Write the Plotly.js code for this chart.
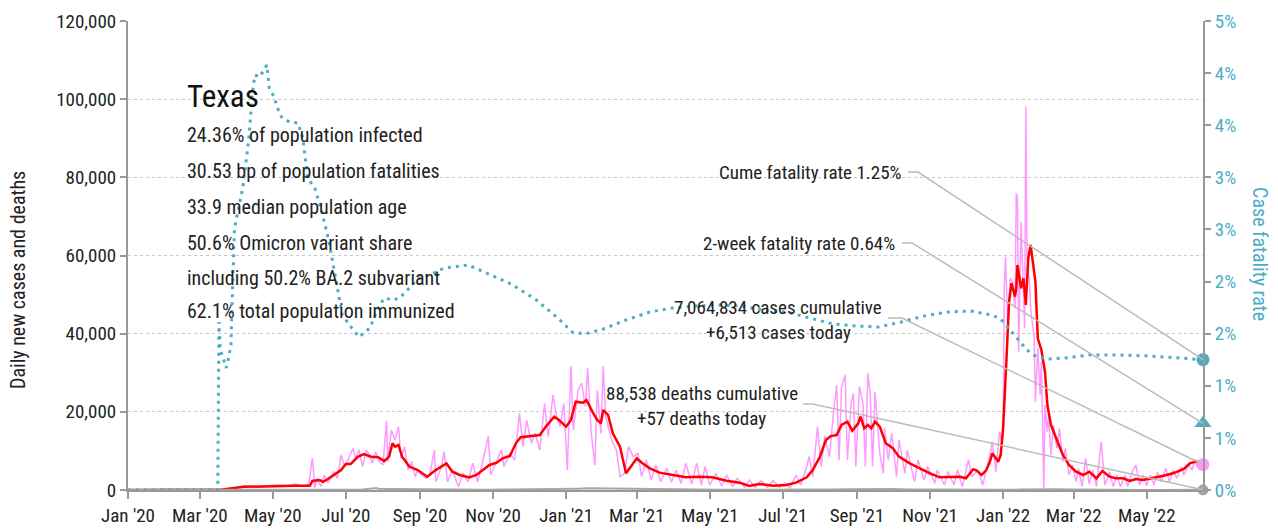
<!DOCTYPE html>
<html>
<head>
<meta charset="utf-8">
<script src="https://cdn.plot.ly/plotly-3.0.1.min.js"></script>
<style>html,body{margin:0;padding:0;background:#fff;}#chart{width:1278px;height:529px;}</style>
</head>
<body>
<div id="chart"></div>
<script>
// ---------- DATA ----------
const stateName = 'Texas';
const statLines = [
  '24.36% of population infected',
  '30.53 bp of population fatalities',
  '33.9 median population age',
  '50.6% Omicron variant share',
  'including 50.2% BA.2 subvariant',
  '62.1% total population immunized'
];
const cumCases = 7064834, casesToday = 6513;
const cumDeaths = 88538, deathsToday = 57;
const cumeRate = 0.0125, twoWeekRate = 0.0064;

// daily new cases (pink)
const caseDates = ['2020-01-01','2020-03-10','2020-03-16','2020-03-24','2020-04-01','2020-04-08','2020-04-15','2020-04-22','2020-04-29','2020-05-06','2020-05-13','2020-05-20','2020-05-27','2020-05-31',
'2020-06-03','2020-06-05','2020-06-07','2020-06-10','2020-06-13','2020-06-16','2020-06-21','2020-06-24','2020-06-27','2020-06-30','2020-07-02','2020-07-07','2020-07-09','2020-07-12','2020-07-15','2020-07-18','2020-07-21','2020-07-23','2020-07-26','2020-07-29',
'2020-08-01','2020-08-04','2020-08-05','2020-08-08','2020-08-11','2020-08-14','2020-08-16','2020-08-19','2020-08-22','2020-08-25','2020-08-28','2020-08-30','2020-09-02','2020-09-06','2020-09-09','2020-09-13','2020-09-14','2020-09-19','2020-09-21','2020-09-24','2020-09-28',
'2020-10-03','2020-10-07','2020-10-11','2020-10-15','2020-10-19','2020-10-23','2020-10-28','2020-10-30','2020-11-04','2020-11-08','2020-11-10','2020-11-15','2020-11-19','2020-11-23','2020-11-26','2020-11-29',
'2020-12-03','2020-12-06','2020-12-10','2020-12-14','2020-12-17','2020-12-21','2020-12-24','2020-12-27','2020-12-30','2021-01-02','2021-01-05','2021-01-07','2021-01-11','2021-01-14','2021-01-17','2021-01-19','2021-01-22','2021-01-25','2021-01-27','2021-01-30',
'2021-02-01','2021-02-03','2021-02-08','2021-02-12','2021-02-15','2021-02-19','2021-02-22','2021-02-26','2021-03-02','2021-03-05','2021-03-09','2021-03-13','2021-03-17','2021-03-21','2021-03-26','2021-03-30',
'2021-04-03','2021-04-07','2021-04-11','2021-04-16','2021-04-20','2021-04-24','2021-04-27','2021-05-01','2021-05-06','2021-05-11','2021-05-15','2021-05-20','2021-05-24','2021-05-30',
'2021-06-03','2021-06-08','2021-06-13','2021-06-18','2021-06-23','2021-06-28','2021-07-03','2021-07-07','2021-07-12','2021-07-16','2021-07-21','2021-07-23','2021-07-26','2021-07-30',
'2021-08-02','2021-08-05','2021-08-09','2021-08-12','2021-08-15','2021-08-17','2021-08-19','2021-08-22','2021-08-24','2021-08-27','2021-08-29','2021-08-31',
'2021-09-03','2021-09-06','2021-09-08','2021-09-10','2021-09-12','2021-09-14','2021-09-16','2021-09-20','2021-09-23','2021-09-24','2021-09-27','2021-09-30',
'2021-10-04','2021-10-06','2021-10-11','2021-10-13','2021-10-19','2021-10-22','2021-10-27','2021-10-30','2021-11-05','2021-11-07','2021-11-13','2021-11-16','2021-11-21','2021-11-24','2021-11-28',
'2021-12-03','2021-12-06','2021-12-11','2021-12-15','2021-12-19','2021-12-21','2021-12-23','2021-12-26','2021-12-29','2021-12-31',
'2022-01-01','2022-01-02','2022-01-03','2022-01-04','2022-01-05','2022-01-07','2022-01-09','2022-01-11','2022-01-12','2022-01-13','2022-01-14','2022-01-16','2022-01-18','2022-01-19','2022-01-20','2022-01-21','2022-01-23','2022-01-24','2022-01-26','2022-01-27','2022-01-28','2022-01-30',
'2022-02-01','2022-02-02','2022-02-04','2022-02-05','2022-02-07','2022-02-08','2022-02-10','2022-02-12','2022-02-15','2022-02-17','2022-02-20','2022-02-22','2022-02-25','2022-02-28',
'2022-03-03','2022-03-05','2022-03-08','2022-03-11','2022-03-14','2022-03-17','2022-03-20','2022-03-24','2022-03-27','2022-03-31',
'2022-04-03','2022-04-06','2022-04-09','2022-04-13','2022-04-15','2022-04-19','2022-04-22','2022-04-25','2022-04-28',
'2022-05-01','2022-05-04','2022-05-07','2022-05-10','2022-05-13','2022-05-17','2022-05-20','2022-05-23','2022-05-26','2022-05-30',
'2022-06-01','2022-06-05','2022-06-08','2022-06-10','2022-06-12','2022-06-14','2022-06-16','2022-06-17'];
const caseValues = [0,0,50,300,700,1100,900,1000,1200,1300,1100,1600,900,1500,
8200,500,3000,900,3800,1800,4700,3000,8960,6000,7250,10670,8100,10240,6000,10240,8960,6830,9800,7250,
6400,17740,7250,15350,12800,16200,8100,11100,5100,7250,3400,5100,3840,3000,3800,10240,2100,6000,9800,2100,5100,
850,4270,2100,6830,2100,6830,13800,3840,7680,10240,6000,9380,7680,19630,11100,17900,
11950,14500,10240,22200,13650,24300,18760,16200,22200,5100,31730,15350,25600,27300,21300,31140,14500,6400,25600,14500,
31730,18760,12800,10240,3400,4270,11100,8530,9380,3400,7680,2560,6400,2120,5550,2000,
5100,1710,6830,1500,6830,1280,6000,1280,4270,1020,3840,850,2990,680,
2560,700,2390,700,2390,700,1880,510,3840,1280,6000,8530,3400,16200,
6000,13650,8530,18760,26870,7680,26020,29430,7680,22180,24740,6000,
26440,22180,6000,29860,24740,6000,25160,9380,4270,15780,7680,14500,
3400,12800,4270,10240,2130,7680,2560,6000,1710,5120,1280,4690,1280,5120,850,
7680,3400,5100,1280,6000,8960,12360,4690,14930,12500,
14000,52460,59700,52000,41380,54180,53300,46490,75920,74640,35390,68660,46000,41380,98090,60140,53300,46490,41380,39000,22600,36250,
24310,32830,430,21750,14930,19190,8960,16630,10670,15780,7250,10670,3840,6400,
2130,5500,850,8100,1500,5120,850,12360,1280,4690,
850,3840,850,3840,850,4690,6400,1280,3840,
1100,3840,1280,4690,2130,5550,2130,5120,2990,5970,
3840,6400,5120,7930,5970,7680,6830,6513];

// 7-day average of new cases (red)
const avgDates = ['2020-01-01','2020-03-10','2020-03-20','2020-04-07','2020-04-29','2020-05-19','2020-06-01','2020-06-03','2020-06-09','2020-06-12','2020-06-16','2020-06-21','2020-06-27',
'2020-07-01','2020-07-05','2020-07-11','2020-07-16','2020-07-22','2020-07-28','2020-08-02','2020-08-06','2020-08-09','2020-08-11','2020-08-14','2020-08-17','2020-08-23','2020-08-30',
'2020-09-07','2020-09-14','2020-09-23','2020-09-28','2020-10-04','2020-10-12','2020-10-18','2020-10-23','2020-10-29','2020-11-04','2020-11-09','2020-11-15','2020-11-20','2020-11-24',
'2020-12-01','2020-12-10','2020-12-15','2020-12-22','2020-12-26','2021-01-01','2021-01-05','2021-01-09','2021-01-15','2021-01-18','2021-01-23','2021-01-27','2021-01-30',
'2021-02-01','2021-02-05','2021-02-09','2021-02-15','2021-02-20','2021-02-24','2021-03-01','2021-03-06','2021-03-12','2021-03-20','2021-03-31','2021-04-11','2021-04-22',
'2021-05-03','2021-05-15','2021-05-26','2021-06-03','2021-06-11','2021-06-23','2021-07-04','2021-07-12','2021-07-21','2021-07-26',
'2021-08-01','2021-08-06','2021-08-10','2021-08-15','2021-08-19','2021-08-24','2021-08-28','2021-09-02','2021-09-04','2021-09-07','2021-09-10','2021-09-13','2021-09-16','2021-09-20','2021-09-25',
'2021-10-01','2021-10-06','2021-10-15','2021-10-23','2021-11-01','2021-11-09','2021-11-20','2021-11-26','2021-12-01','2021-12-07','2021-12-10','2021-12-14','2021-12-18','2021-12-21','2021-12-23','2021-12-28','2021-12-30',
'2022-01-01','2022-01-04','2022-01-06','2022-01-08','2022-01-11','2022-01-12','2022-01-13','2022-01-16','2022-01-18','2022-01-20','2022-01-22','2022-01-24','2022-01-26','2022-01-28','2022-01-30',
'2022-02-02','2022-02-05','2022-02-07','2022-02-10','2022-02-13','2022-02-16','2022-02-20','2022-02-25','2022-03-03','2022-03-09','2022-03-14','2022-03-20','2022-03-25','2022-03-31',
'2022-04-05','2022-04-11','2022-04-17','2022-04-22','2022-04-28','2022-05-06','2022-05-15','2022-05-23','2022-06-01','2022-06-06','2022-06-11','2022-06-17'];
const avgValues = [0,0,150,800,1000,1100,1100,2300,2560,2100,2800,3840,5100,
6650,6650,8500,9200,8500,8400,7400,8500,11950,11100,11500,8500,6000,5100,
3400,5100,6800,4700,3840,3240,3840,4950,6400,7000,8100,8700,11950,13500,
13800,14070,16200,18760,17900,16200,17900,22600,22340,23000,20000,17900,17060,
20470,19200,14500,11100,4270,5970,8100,6800,5550,4440,3840,3240,3400,
3240,2390,1880,1020,1540,1100,1280,1880,3240,5100,
8500,12800,13800,14070,16630,17480,15170,17060,18760,15780,16630,15780,17480,16200,11950,
10670,8530,6830,5550,4270,3240,3240,3400,2990,5290,4950,3840,5120,7250,9380,7250,8960,
15780,34550,48190,52900,49470,51620,57580,51620,54180,47340,59300,62700,58420,53300,38820,
35830,30270,21750,16630,14070,11950,8960,6400,4690,3840,4690,2990,4860,3400,
2990,2990,2300,2820,2560,2990,3670,4270,5370,6830,7250,6830];

// daily new deaths (grey)
const deathDates = ['2020-01-01','2020-03-15','2020-04-01','2020-04-15','2020-05-01','2020-05-15','2020-06-01','2020-06-15','2020-07-01','2020-07-15','2020-07-27','2020-07-28','2020-08-10','2020-08-25',
'2020-09-10','2020-09-25','2020-10-10','2020-10-25','2020-11-10','2020-11-25','2020-12-10','2020-12-25','2021-01-10','2021-01-20','2021-01-30','2021-02-10','2021-02-25',
'2021-03-10','2021-03-25','2021-04-10','2021-04-25','2021-05-10','2021-05-25','2021-06-10','2021-06-25','2021-07-10','2021-07-25','2021-08-10','2021-08-25','2021-09-10','2021-09-20',
'2021-10-01','2021-10-15','2021-11-01','2021-11-15','2021-12-01','2021-12-15','2022-01-01','2022-01-15','2022-02-01','2022-02-15','2022-03-01','2022-03-15',
'2022-04-01','2022-04-15','2022-05-01','2022-05-15','2022-06-01','2022-06-17'];
const deathValues = [0,2,15,40,35,40,30,30,50,150,500,300,250,200,
100,120,80,90,130,150,230,250,350,450,400,350,250,
200,120,80,60,50,40,30,25,20,40,120,220,300,350,
250,150,100,60,60,50,40,100,200,180,120,60,
40,20,15,15,20,57];

// case fatality rate (teal, fraction)
const cfrDates = ['2020-01-01','2020-03-16','2020-03-17','2020-03-18','2020-03-21','2020-03-23','2020-03-25','2020-03-27','2020-03-28','2020-03-30',
'2020-04-06','2020-04-11','2020-04-14','2020-04-16','2020-04-20','2020-04-24','2020-04-26','2020-04-28','2020-05-02','2020-05-07','2020-05-09','2020-05-15','2020-05-22','2020-05-26','2020-05-30',
'2020-06-05','2020-06-11','2020-06-17','2020-06-23','2020-06-28','2020-07-06','2020-07-12','2020-07-21','2020-07-28','2020-08-02','2020-08-09','2020-08-15','2020-08-23','2020-08-31',
'2020-09-09','2020-09-21','2020-10-11','2020-10-28','2020-11-16','2020-12-06','2020-12-25','2021-01-06','2021-01-17','2021-02-01','2021-02-20','2021-03-12','2021-03-31',
'2021-04-19','2021-05-08','2021-05-27','2021-06-15','2021-07-04','2021-07-23','2021-08-12','2021-08-31','2021-09-19','2021-10-08','2021-10-27','2021-11-16','2021-12-05','2021-12-22','2021-12-29',
'2022-01-02','2022-01-09','2022-01-15','2022-01-21','2022-01-29','2022-02-09','2022-02-22','2022-03-14','2022-04-08','2022-05-03','2022-05-28','2022-06-17'];
const cfrValues = [0,0,0.01612,0.01343,0.01247,0.01171,0.01267,0.01391,0.01823,0.02514,
0.02907,0.03377,0.03819,0.03982,0.03963,0.04049,0.04078,0.03857,0.03771,0.03598,0.03569,0.03531,0.03521,0.03377,0.02994,
0.02898,0.02667,0.02380,0.01996,0.01679,0.01554,0.01468,0.01554,0.01746,0.01842,0.01823,0.01842,0.01938,0.02034,
0.02063,0.02130,0.02159,0.02073,0.01977,0.01833,0.01650,0.01516,0.01497,0.01545,0.01631,0.01708,0.01746,
0.01765,0.01775,0.01765,0.01727,0.01708,0.01650,0.01593,0.01574,0.01564,0.01612,0.01670,0.01708,0.01718,0.01679,0.01650,
0.01602,0.01506,0.01420,0.01343,0.01276,0.01257,0.01267,0.01295,0.01295,0.01286,0.01267,0.0125];

const rateTickVals = [0,0.005,0.01,0.015,0.02,0.025,0.03,0.035,0.04,0.045];
const rateTickText = ['0%','1%','1%','2%','2%','3%','3%','4%','4%','5%'];

// ---------- STYLE ----------
const FONT = "'Liberation Sans Narrow','Roboto Condensed','DejaVu Sans Condensed','Arial Narrow',sans-serif";
const TEAL = '#4BACC6', PINK = '#FF99FF', RED = '#FF0000', GREY = '#A6A6A6', AXIS = '#999999';
const X_RANGE = ['2020-01-01', '2022-06-17'];
const Y_MAX = 120000, Y2_MAX = 0.045;

const lastDate = caseDates[caseDates.length - 1];
const t0 = Date.parse(X_RANGE[0]), t1 = Date.parse(X_RANGE[1]);
const px = d => (Date.parse(d) - t0) / (t1 - t0);
const py = v => v / Y_MAX;
const py2 = v => v / Y2_MAX;

const traces = [
  {x: caseDates, y: caseValues, type: 'scatter', mode: 'lines', line: {color: PINK, width: 1.5}, hoverinfo: 'skip'},
  {x: avgDates, y: avgValues, type: 'scatter', mode: 'lines', line: {color: RED, width: 2.5}, hoverinfo: 'skip'},
  {x: deathDates, y: deathValues, type: 'scatter', mode: 'lines', line: {color: GREY, width: 2}, hoverinfo: 'skip'},
  {x: [lastDate], y: [casesToday], type: 'scatter', mode: 'markers', marker: {color: PINK, size: 13}, cliponaxis: false},
  {x: [lastDate], y: [deathsToday], type: 'scatter', mode: 'markers', marker: {color: GREY, size: 11}, cliponaxis: false},
  {x: cfrDates, y: cfrValues, yaxis: 'y2', type: 'scatter', mode: 'lines', line: {color: TEAL, width: 3, dash: '3px,5px'}, hoverinfo: 'skip'},
  {x: [lastDate], y: [cumeRate], yaxis: 'y2', type: 'scatter', mode: 'markers', marker: {color: TEAL, size: 13}, cliponaxis: false},
  {x: [lastDate], y: [twoWeekRate], yaxis: 'y2', type: 'scatter', mode: 'markers', marker: {color: TEAL, size: 15, symbol: 'triangle-up'}, cliponaxis: false}
];

const fmt = n => n.toLocaleString('en-US');
const ann = [];
ann.push({text: stateName, x: 0.053, y: 0.838, xref: 'paper', yref: 'paper', xanchor: 'left', yanchor: 'middle', showarrow: false, font: {size: 31, color: '#111'}});
const statY = [0.757, 0.680, 0.603, 0.527, 0.452, 0.382];
statLines.forEach((t, i) => ann.push({text: t, x: 0.053, y: statY[i], xref: 'paper', yref: 'paper', xanchor: 'left', yanchor: 'middle', showarrow: false, font: {size: 20, color: '#222'}}));
ann.push({text: 'Cume fatality rate ' + (cumeRate * 100).toFixed(2) + '%', x: 0.7215, y: 0.676, xref: 'paper', yref: 'paper', xanchor: 'right', yanchor: 'middle', showarrow: false, font: {size: 19, color: '#222'}});
ann.push({text: '2-week fatality rate ' + (twoWeekRate * 100).toFixed(2) + '%', x: 0.7158, y: 0.525, xref: 'paper', yref: 'paper', xanchor: 'right', yanchor: 'middle', showarrow: false, font: {size: 19, color: '#222'}});
ann.push({text: fmt(cumCases) + ' cases cumulative', x: 0.605, y: 0.390, xref: 'paper', yref: 'paper', xanchor: 'center', yanchor: 'middle', showarrow: false, font: {size: 19, color: '#222'}});
ann.push({text: '+' + fmt(casesToday) + ' cases today', x: 0.605, y: 0.335, xref: 'paper', yref: 'paper', xanchor: 'center', yanchor: 'middle', showarrow: false, font: {size: 19, color: '#222'}});
ann.push({text: fmt(cumDeaths) + ' deaths cumulative', x: 0.5335, y: 0.2047, xref: 'paper', yref: 'paper', xanchor: 'center', yanchor: 'middle', showarrow: false, font: {size: 19, color: '#222'}});
ann.push({text: '+' + deathsToday + ' deaths today', x: 0.5335, y: 0.1535, xref: 'paper', yref: 'paper', xanchor: 'center', yanchor: 'middle', showarrow: false, font: {size: 19, color: '#222'}});
ann.push({text: 'Daily new cases and deaths', x: -0.1023, y: 0.448, xref: 'paper', yref: 'paper', xanchor: 'center', yanchor: 'middle', textangle: -90, showarrow: false, font: {size: 20, color: '#222'}});
ann.push({text: 'Case fatality rate', x: 1.053, y: 0.503, xref: 'paper', yref: 'paper', xanchor: 'center', yanchor: 'middle', textangle: 90, showarrow: false, font: {size: 20, color: TEAL}});

// leader lines: from label (paper) to the data marker at the last date
const endX = px(lastDate);
const leaders = [
  {sx: 0.7256, ex: 0.7349, sy: 0.678, ty: py2(cumeRate)},
  {sx: 0.7200, ex: 0.7293, sy: 0.5267, ty: py2(twoWeekRate)},
  {sx: 0.7070, ex: 0.7200, sy: 0.3667, ty: py(casesToday)},
  {sx: 0.6280, ex: 0.6370, sy: 0.1834, ty: py(deathsToday)}
];
const shapes = leaders.map(l => ({type: 'path', xref: 'paper', yref: 'paper', layer: 'above',
  path: `M ${l.sx},${l.sy} L ${l.ex},${l.sy} L ${endX},${l.ty}`, line: {color: '#BBBBBB', width: 1.5}}));

const layout = {
  width: 1278, height: 529,
  margin: {l: 128, r: 75, t: 21, b: 39, pad: 0},
  paper_bgcolor: '#fff', plot_bgcolor: '#fff',
  showlegend: false,
  font: {family: FONT, size: 19, color: '#222'},
  xaxis: {type: 'date', range: X_RANGE, tick0: '2020-01-01', dtick: 'M2', tickformat: "%b '%y",
    ticks: 'outside', ticklen: 7, tickwidth: 2, tickcolor: AXIS, showline: true, linecolor: AXIS, linewidth: 2,
    showgrid: false, zeroline: false, tickfont: {size: 19, color: '#222'}},
  yaxis: {range: [0, Y_MAX], dtick: 20000, tickformat: ',d', ticks: 'outside', ticklen: 6, tickwidth: 2, tickcolor: AXIS,
    showline: true, linecolor: AXIS, linewidth: 2, showgrid: true, gridcolor: '#C8C8C8', griddash: 'dot', gridwidth: 1,
    zeroline: false, tickfont: {size: 19, color: '#222'}},
  yaxis2: {overlaying: 'y', side: 'right', range: [0, Y2_MAX], tickvals: rateTickVals, ticktext: rateTickText,
    ticks: 'outside', ticklen: 6, tickwidth: 2, tickcolor: AXIS, showline: true, linecolor: AXIS, linewidth: 2,
    showgrid: false, zeroline: false, tickfont: {size: 19, color: TEAL}},
  annotations: ann,
  shapes: shapes
};

Plotly.newPlot('chart', traces, layout, {displayModeBar: false, staticPlot: true});
</script>
</body>
</html>
